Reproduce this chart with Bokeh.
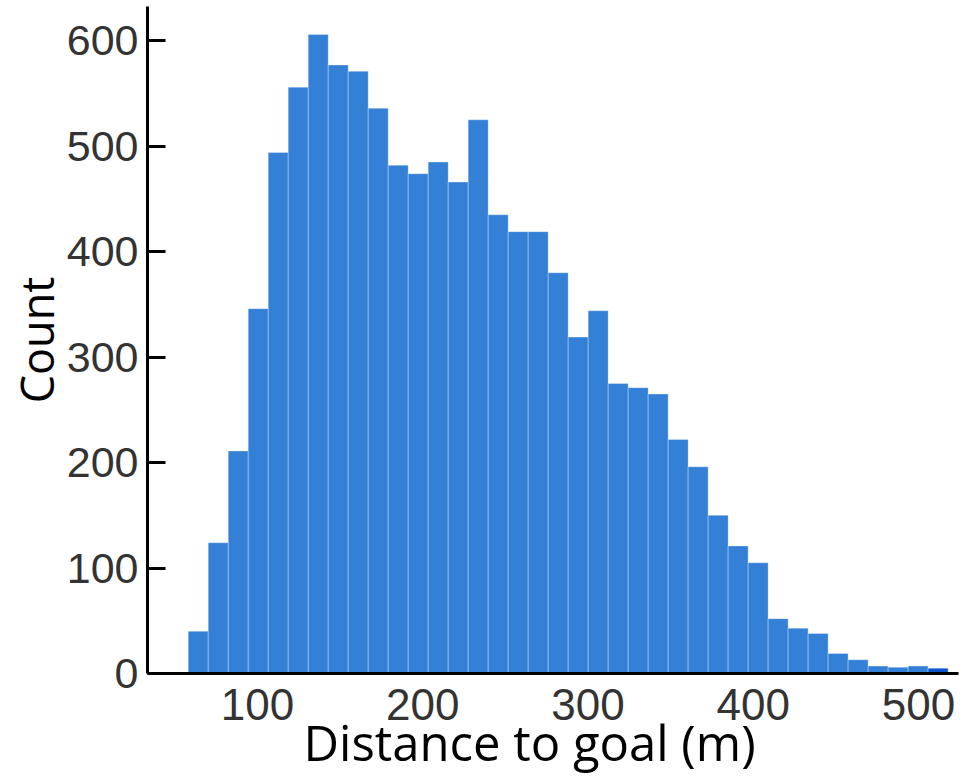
import numpy as np
from bokeh.plotting import figure
from bokeh.models import Range1d, FixedTicker, Title, ColumnDataSource
from bokeh.embed import file_html
from bokeh.resources import INLINE

# ---- data ----
bin_start = 58.1      # left edge of first bin (m)
bin_width = 12.1      # bin width (m)
counts = [40, 124, 211, 346, 494, 556, 606, 577, 571, 536, 482, 474, 485, 466,
          525, 435, 419, 419, 380, 319, 344, 275, 271, 265, 222, 196, 150, 121,
          105, 52, 43, 38, 19, 13, 7, 6, 7, 5]
x_ticks = [100, 200, 300, 400, 500]
y_ticks = [0, 100, 200, 300, 400, 500, 600]
x_title = "Distance to goal (m)"
y_title = "Count"

# ---- derived ----
left = bin_start + bin_width * np.arange(len(counts))
right = left + bin_width
colors = ["#3480d6"] * (len(counts) - 1) + ["#0a55c8"]
src = ColumnDataSource(dict(left=left, right=right, top=counts,
                            bottom=[0] * len(counts), color=colors))

p = figure(width=959, height=775, output_backend="svg", toolbar_location=None,
           x_range=Range1d(33.45, 524.2), y_range=Range1d(0, 632.5),
           min_border_left=147, min_border_right=1, min_border_top=6,
           min_border_bottom=102)
p.outline_line_color = None
p.xgrid.visible = False
p.ygrid.visible = False
p.background_fill_color = "white"
p.border_fill_color = "white"

p.quad(left="left", right="right", top="top", bottom="bottom", source=src,
       fill_color="color", line_color="white", line_alpha=0.3, line_width=1)

xa = p.xaxis[0]
xa.ticker = FixedTicker(ticks=x_ticks)
xa.axis_line_width = 3
xa.axis_line_color = "black"
xa.major_tick_line_color = None
xa.minor_tick_line_color = None
xa.major_label_text_font = "Liberation Sans"
xa.major_label_text_font_size = "44px"
xa.major_label_text_color = "#333333"
xa.major_label_standoff = 9

ya = p.yaxis[0]
ya.ticker = FixedTicker(ticks=y_ticks)
ya.axis_line_width = 3
ya.axis_line_color = "black"
ya.major_tick_in = 18
ya.major_tick_out = 0
ya.major_tick_line_width = 3
ya.major_tick_line_color = "black"
ya.minor_tick_line_color = None
ya.major_label_text_font = "Liberation Sans"
ya.major_label_text_font_size = "43px"
ya.major_label_text_color = "#333333"
ya.major_label_standoff = 9
ya.axis_label = y_title
ya.axis_label_text_font = "Open Sans"
ya.axis_label_text_font_size = "45px"
ya.axis_label_text_font_style = "normal"
ya.axis_label_text_color = "black"
ya.axis_label_standoff = -3

xt = Title(text=x_title, align="left", offset=156, vertical_align="top",
           standoff=-28, text_font="Open Sans", text_font_size="49px",
           text_font_style="normal", text_color="black")
p.add_layout(xt, "below")

open("out.html", "w").write(file_html(p, INLINE))
